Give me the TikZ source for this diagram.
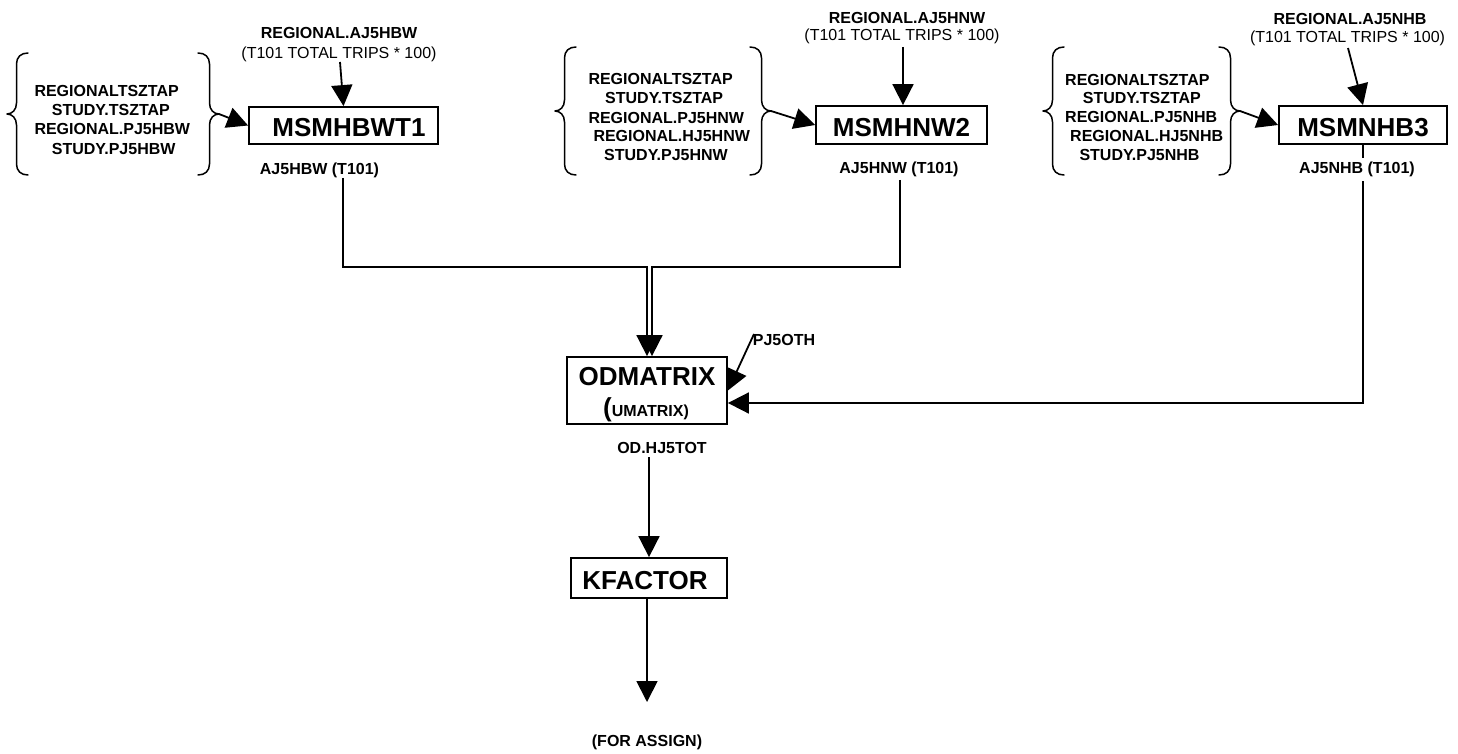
\documentclass[tikz,border=0pt]{standalone}
\usepackage{fontspec}
\setmainfont{Liberation Sans}
\usetikzlibrary{arrows.meta}
\tikzset{
  wire/.style={line width=1.8pt},
  arr/.style={wire, -{Triangle[length=21pt,width=21pt]}},
  procbox/.style={draw, line width=1.8pt, fill=white, inner sep=0pt,
    text height=22.5pt, text depth=0pt, font=\fontsize{26}{30}\selectfont\bfseries},
  bigtxt/.style={inner sep=0pt, anchor=base, font=\fontsize{26}{30}\selectfont\bfseries},
  lbl/.style={inner sep=0pt, anchor=base, font=\fontsize{16}{19}\selectfont\bfseries},
  lblw/.style={lbl, anchor=base west},
  note/.style={inner sep=0pt, anchor=base, font=\fontsize{16}{19}\selectfont},
  brc/.style={line width=1.5pt, line cap=round, line join=round},
  pics/lbrace/.style={code={
    \draw[brc] (21,-#1) .. controls (14,-#1) and (9.5,-#1+4) .. (9.5,-#1+11)
      -- (9.5,-11) .. controls (9.5,-4) and (5,0) .. (0,0)
      .. controls (5,0) and (9.5,4) .. (9.5,11)
      -- (9.5,#1-11) .. controls (9.5,#1-4) and (14,#1) .. (21,#1);}},
  pics/rbrace/.style={code={
    \draw[brc] (-21,-#1) .. controls (-14,-#1) and (-9.5,-#1+4) .. (-9.5,-#1+11)
      -- (-9.5,-11) .. controls (-9.5,-4) and (-5,0) .. (0,0)
      .. controls (-5,0) and (-9.5,4) .. (-9.5,11)
      -- (-9.5,#1-11) .. controls (-9.5,#1-4) and (-14,#1) .. (-21,#1);}},
}
\begin{document}
\begin{tikzpicture}[x=1pt,y=-1pt]
\useasboundingbox (0,0) rectangle (1458,754);

% ---- process boxes ----
\node[procbox, minimum width=189pt, minimum height=37pt] (b1) at (343.5,125.5) {\hspace*{11pt}MSMHBWT1};
\node[procbox, minimum width=171pt, minimum height=38pt] (b2) at (901.5,125) {MSMHNW2};
\node[procbox, minimum width=168pt, minimum height=38pt] (b3) at (1363,125) {MSMNHB3};
\node[procbox, minimum width=160pt, minimum height=67pt] (od) at (647,390.5) {};
\node[bigtxt] (odt) at (647,385) {ODMATRIX};
\node[lbl] (odu) at (646,416.7) {{\fontsize{26}{30}\selectfont(}UMATRIX)};
\node[procbox, minimum width=156pt, minimum height=40pt] (kf) at (649,578) {KFACTOR\hspace*{8pt}};

% ---- input groups in braces ----
\pic at (7,114) {lbrace=61};
\pic at (219,114) {rbrace=61};
\coordinate (r1) at (219,114);
\node[lblw] (g1a) at (34.3,96.5)  {REGIONALTSZTAP};
\node[lblw] (g1b) at (51.7,115.7) {STUDY.TSZTAP};
\node[lblw] (g1c) at (34.3,134.9) {REGIONAL.PJ5HBW};
\node[lblw] (g1d) at (51.7,154.1) {STUDY.PJ5HBW};

\pic at (555,111) {lbrace=64};
\pic at (771,111) {rbrace=64};
\coordinate (r2) at (771,111);
\node[lblw] (g2a) at (588.3,85)    {REGIONALTSZTAP};
\node[lblw] (g2b) at (605,104)     {STUDY.TSZTAP};
\node[lblw] (g2c) at (588.3,123.3) {REGIONAL.PJ5HNW};
\node[lblw] (g2d) at (593.3,141.7) {REGIONAL.HJ5HNW};
\node[lblw] (g2e) at (604,160.7)   {STUDY.PJ5HNW};

\pic at (1043,111) {lbrace=64};
\pic at (1240,111) {rbrace=64};
\coordinate (r3) at (1240,111);
\node[lblw] (g3a) at (1065,86)     {REGIONALTSZTAP};
\node[lblw] (g3b) at (1082.7,104)  {STUDY.TSZTAP};
\node[lblw] (g3c) at (1065,123)    {REGIONAL.PJ5NHB};
\node[lblw] (g3d) at (1070,142)    {REGIONAL.HJ5NHB};
\node[lblw] (g3e) at (1079.3,161)  {STUDY.PJ5NHB};

\draw[arr] (r1) -- (b1.west);
\draw[arr] (r2) -- (b2.west);
\draw[arr] (r3) -- (b3.west);

% ---- trip inputs from above ----
\node[lbl]  (t1a) at (339,39)    {REGIONAL.AJ5HBW};
\node[note] (t1b) at (339,58.5)  {(T101 TOTAL TRIPS * 100)};
\node[lbl]  (t2a) at (907,23.3)  {REGIONAL.AJ5HNW};
\node[note] (t2b) at (902,40.7)  {(T101 TOTAL TRIPS * 100)};
\node[lbl]  (t3a) at (1350,25)   {REGIONAL.AJ5NHB};
\node[note] (t3b) at (1347.5,42.7) {(T101 TOTAL TRIPS * 100)};
\coordinate (a1) at (340,62);
\coordinate (a2) at (903,47);
\coordinate (a3) at (1348,48);
\draw[arr] (a1) -- (b1.north);
\draw[arr] (a2) -- (a2 |- b2.north);
\draw[arr] (a3) -- (b3.north);

% ---- outputs towards ODMATRIX ----
\node[lbl] (o1) at (319.5,174.5) {AJ5HBW (T101)};
\node[lbl] (o2) at (899,173.3)   {AJ5HNW (T101)};
\coordinate (d1) at (343,178);
\coordinate (d2) at (900,180);
\coordinate (m1) at (647,267);
\coordinate (m2) at (652,267);
\draw[arr] (d1) |- (m1) -- (m1 |- od.north);
\draw[arr] (d2) |- (m2) -- (m2 |- od.north);

\coordinate (m3) at (1363,403);
\draw[arr] (b3.south) -- (m3) -- (m3 -| od.east);
\node[lbl, fill=white, inner xsep=2pt, inner ysep=4pt] (o3) at (1357,173.3) {AJ5NHB (T101)};

\node[lbl] (pj) at (784,345) {PJ5OTH};
\coordinate (p0) at (754,334);
\draw[arr] (p0) -- (od.east);

% ---- ODMATRIX to KFACTOR and on ----
\node[lbl] (odo) at (662,453.5) {OD.HJ5TOT};
\coordinate (q0) at (649,457);
\draw[arr] (q0) -- (q0 |- kf.north);
\node[lbl] (fa) at (647,746.5) {(FOR ASSIGN)};
\coordinate (e1) at (647,702);
\draw[arr] (kf.south -| e1) -- (e1);
\end{tikzpicture}
\end{document}
